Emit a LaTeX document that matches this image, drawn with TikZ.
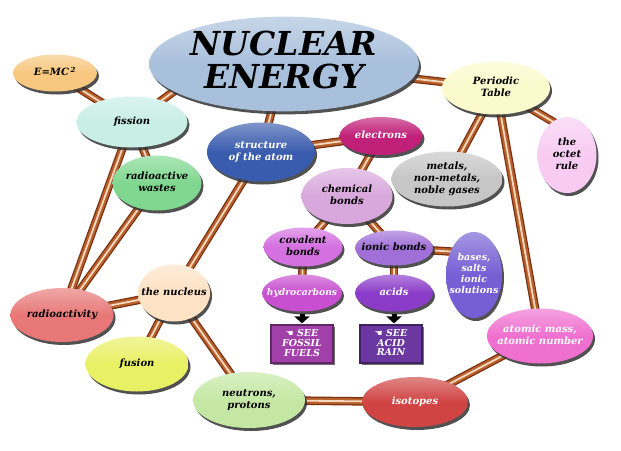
\documentclass[tikz,border=0pt]{standalone}
\usepackage{fontspec}
\setmainfont{DejaVu Serif}
\newfontfamily\handfont{DejaVu Sans}
\usepackage{xcolor}
\usetikzlibrary{shapes.geometric}
\usetikzlibrary{shadows}
\usetikzlibrary{backgrounds}
\usetikzlibrary{arrows.meta}

\definecolor{cenergy}{HTML}{A9C0DC}
\definecolor{cemc}{HTML}{F8C880}
\definecolor{cfission}{HTML}{C8EEE6}
\definecolor{cwaste}{HTML}{80D890}
\definecolor{catom}{HTML}{3A5CAE}
\definecolor{celectrons}{HTML}{C02078}
\definecolor{ctable}{HTML}{FAFACC}
\definecolor{coctet}{HTML}{F8CCF2}
\definecolor{cmetals}{HTML}{C6C6C6}
\definecolor{cchem}{HTML}{D8A8DC}
\definecolor{ccov}{HTML}{D470E0}
\definecolor{cionic}{HTML}{A070D8}
\definecolor{chydro}{HTML}{C850D0}
\definecolor{cacids}{HTML}{8A3CC8}
\definecolor{cbases}{HTML}{7460D4}
\definecolor{cfossil}{HTML}{A040A8}
\definecolor{crain}{HTML}{6A38A0}
\definecolor{cmass}{HTML}{F070D0}
\definecolor{cisotopes}{HTML}{D04444}
\definecolor{cneutrons}{HTML}{C4E8A4}
\definecolor{cfusion}{HTML}{E8F064}
\definecolor{cradact}{HTML}{E87878}
\definecolor{cnucleus}{HTML}{FDE2C4}
\definecolor{pipedark}{HTML}{7A3010}
\definecolor{pipemid}{HTML}{B8602C}
\definecolor{pipelight}{HTML}{F4D8C0}

\newcommand{\tx}[1]{\makebox[0pt]{\begin{tabular}{@{}c@{}}#1\end{tabular}}}

\tikzset{
    bub/.style n args={3}{ellipse, inner sep=0pt, minimum width=#1pt, minimum height=#2pt,
        top color=#3!65!white, bottom color=#3, middle color=#3,
        drop shadow={shadow xshift=2pt, shadow yshift=-3pt, fill=black!80, opacity=0.85},
        font=\fontsize{10}{11.7}\selectfont\bfseries\itshape},
    seebox/.style={rectangle, inner sep=0pt, minimum width=62pt, minimum height=38pt,
        fill=#1, draw=#1!60!black, line width=1.2pt, text=white,
        drop shadow={shadow xshift=2pt, shadow yshift=-2pt, fill=black!80, opacity=0.7},
        font=\fontsize{9.5}{9.5}\selectfont\bfseries\itshape},
    pipe/.style={line width=8.5pt, draw=pipedark,
        postaction={draw=pipemid, line width=6pt},
        postaction={draw=pipelight, line width=1.8pt}},
    downarrow/.style={line width=5pt, -{Triangle[width=15pt,length=7pt]}, shorten <=2pt, shorten >=1pt}
}

\begin{document}
\begin{tikzpicture}[x=1pt, y=-1pt]
        \useasboundingbox (0,0) rectangle (621,450);

        \node[bub={270}{92}{cenergy}, font=\fontsize{33}{30}\selectfont\bfseries\itshape] (energy) at (284,64) {\tx{NUCLEAR\\ENERGY}};
        \node[bub={84}{37}{cemc}] (emc) at (55,73) {\tx{E=MC\,\textsuperscript{2}}};
        \node[bub={111}{51}{cfission}] (fission) at (132,122) {\tx{fission}};
        \node[bub={89}{55}{cwaste}] (waste) at (157,183) {\tx{radioactive\\wastes}};
        \node[bub={108}{59}{catom}, text=white] (atom) at (261,152) {\tx{structure\\of the atom}};
        \node[bub={83}{38}{celectrons}, text=white] (electrons) at (381,136) {\tx{electrons}};
        \node[bub={108}{53}{ctable}] (table) at (496,88) {\tx{Periodic\\Table}};
        \node[bub={59}{76}{coctet}] (octet) at (567,155) {\tx{the\\octet\\rule}};
        \node[bub={111}{55}{cmetals}] (metals) at (447,179) {\tx{metals,\\non-metals,\\noble gases}};
        \node[bub={91}{56}{cchem}] (chem) at (347,196) {\tx{chemical\\bonds}};
        \node[bub={79}{39}{ccov}] (cov) at (303,247) {\tx{covalent\\bonds}};
        \node[bub={78}{35}{cionic}] (ionic) at (394,248) {\tx{ionic bonds}};
        \node[bub={80}{37}{chydro}, text=white, font=\fontsize{9.2}{11}\selectfont\bfseries\itshape] (hydro) at (302,293) {\tx{hydrocarbons}};
        \node[bub={78}{37}{cacids}, text=white] (acids) at (394,293) {\tx{acids}};
        \node[bub={56}{86}{cbases}, text=white, font=\fontsize{9.5}{11}\selectfont\bfseries\itshape] (bases) at (474,275) {\tx{bases,\\salts\\ionic\\solutions}};
        \node[seebox=cfossil] (fossil) at (302,344) {\tx{{\handfont\small ☚} SEE\\FOSSIL\\FUELS}};
        \node[seebox=crain] (rain) at (391,344) {\tx{{\handfont\small ☚} SEE\\ACID\\RAIN}};
        \node[bub={106}{55}{cmass}, text=white] (mass) at (540,336) {\tx{atomic mass,\\atomic number}};
        \node[bub={106}{50}{cisotopes}, text=white] (isotopes) at (415,402) {\tx{isotopes}};
        \node[bub={112}{56}{cneutrons}] (neutrons) at (249,400) {\tx{neutrons,\\protons}};
        \node[bub={103}{55}{cfusion}] (fusion) at (137,364) {\tx{fusion}};
        \node[bub={103}{54}{cradact}] (radact) at (62,315) {\tx{radioactivity}};
        \node[bub={72}{57}{cnucleus}] (nucleus) at (174,293) {\tx{the nucleus}};

        \draw[downarrow] (hydro.south) -- (hydro.south |- fossil.north);
        \draw[downarrow] (acids.south) -- (acids.south |- rain.north);

        \begin{scope}[on background layer]
        \draw[pipe] (emc.center) -- (fission.center);
        \draw[pipe] (fission.center) -- ([shift={(11,-8)}]energy.194);
        \draw[pipe] (fission.center) -- (radact.center);
        \draw[pipe] (fission.center) -- (waste.center);
        \draw[pipe] (waste.center) -- (radact.center);
        \draw[pipe] (radact.center) -- (nucleus.center);
        \draw[pipe] (energy.center) -- (atom.center);
        \draw[pipe] (atom.center) -- (nucleus.center);
        \draw[pipe] (atom.center) -- (electrons.center);
        \draw[pipe] (electrons.center) -- (chem.center);
        \draw[pipe] (chem.center) -- (cov.center);
        \draw[pipe] (chem.center) -- (ionic.center);
        \draw[pipe] (cov.center) -- (hydro.center);
        \draw[pipe] (ionic.center) -- (acids.center);
        \draw[pipe] (ionic.center) -- ([yshift=22pt]bases.center);
        \draw[pipe] (energy.center) -- (table.center);
        \draw[pipe] (table.center) -- (metals.center);
        \draw[pipe] (table.center) -- ([yshift=25pt]octet.center);
        \draw[pipe] (table.center) -- (mass.center);
        \draw[pipe] (mass.center) -- (isotopes.center);
        \draw[pipe] (isotopes.center) -- (neutrons.center);
        \draw[pipe] (nucleus.center) -- (neutrons.center);
        \draw[pipe] (nucleus.center) -- (fusion.center);
        \end{scope}
\end{tikzpicture}
\end{document}
